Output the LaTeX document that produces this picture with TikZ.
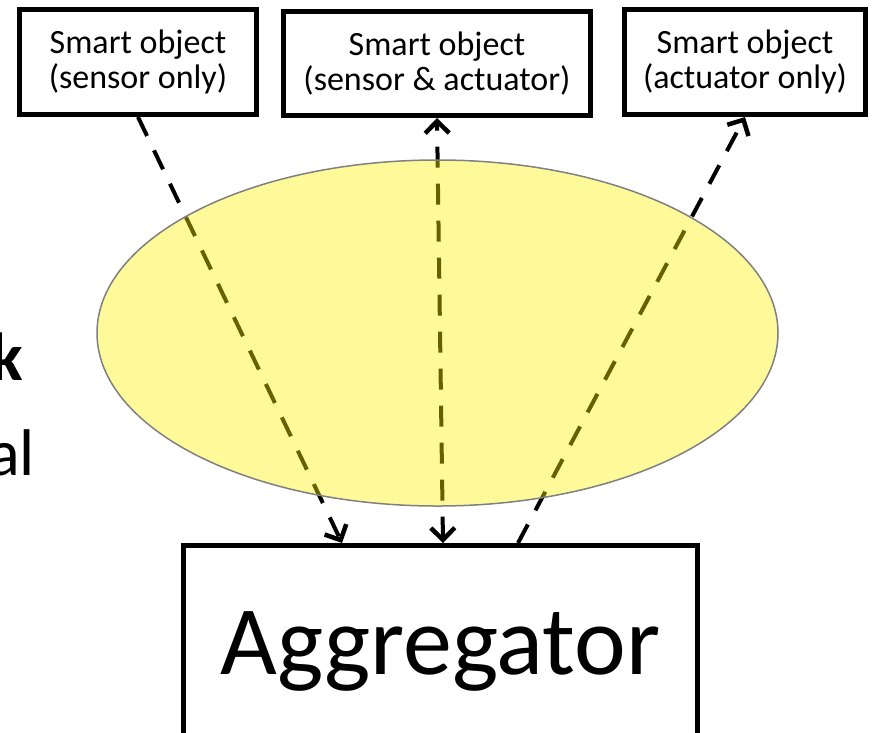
\documentclass[tikz,border=0pt]{standalone}
\usepackage{fontspec}
\setmainfont{Carlito}
\usetikzlibrary{arrows.meta,calc}
\begin{document}
\begin{tikzpicture}[x=1pt,y=-1pt,
  objbox/.style={draw, line width=5pt, inner sep=0pt, align=center,
    font=\fontsize{34}{35}\selectfont},
  link/.style={line width=4pt, dash pattern=on 21pt off 16pt},
  barb/.style={arrows={-Straight Barb[length=12pt,width=24pt,line width=4.5pt]}},
  dbarb/.style={arrows={Straight Barb[length=12pt,width=24pt,line width=4.5pt]-Straight Barb[length=12pt,width=24pt,line width=4.5pt]}},
  bg/.style={anchor=base east, inner sep=0pt}
]
\useasboundingbox (0,0) rectangle (877,732);
\clip (0,0) rectangle (877,732);

% background slide text fragments
\node[bg, font=\fontsize{68}{70}\selectfont\bfseries] (k) at (23,380) {k};
\node[bg, font=\fontsize{66}{70}\selectfont] (al) at (35,475) {al};

% smart objects
\node[objbox, minimum width=237pt, minimum height=105pt] (s1) at (138,62) {Smart object\\(sensor only)};
\node[objbox, minimum width=307pt, minimum height=104pt] (s2) at (437,63.5) {Smart object\\(sensor \& actuator)};
\node[objbox, minimum width=241pt, minimum height=105pt] (s3) at (745,62) {Smart object\\(actuator only)};

% aggregator
\node[draw, line width=5pt, inner sep=0pt, minimum width=514pt, minimum height=211pt,
  font=\fontsize{98}{100}\selectfont] (agg) at (440.5,651) {Aggregator};

% connectors
\draw[link, barb] (s1.south) -- ([xshift=-98.5pt]agg.north);
\draw[link, dbarb] ([xshift=2.5pt]agg.north) -- (s2.south);
\draw[link, barb] ([xshift=77.5pt]agg.north) -- (s3.south);

% network cloud
\draw[fill=yellow, fill opacity=0.4, draw=gray, line width=1.5pt]
  (437.5,333) ellipse [x radius=340.5pt, y radius=173pt];
\end{tikzpicture}
\end{document}
